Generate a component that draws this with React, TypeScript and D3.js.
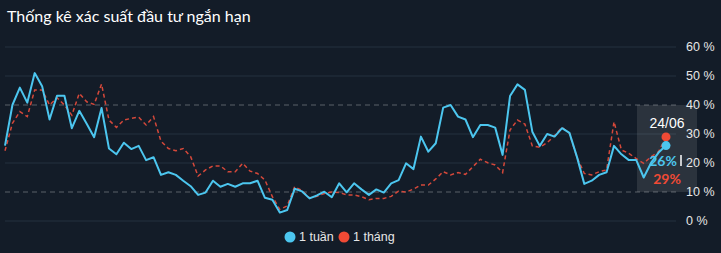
import React from "react";
import * as d3 from "d3";

const W = 721;
const H = 253;

const title = "Thống kê xác suất đầu tư ngắn hạn";
const seriesNames = ["1 tuần", "1 tháng"];
const yTicks = [0, 10, 20, 30, 40, 50, 60];
const dashedTicks = [10, 40];
const lastLabel = "24/06";

const week = [
  26, 40, 46, 40.8, 51, 46.5, 35, 43.2, 43.2, 32,
  38, 33.5, 28.9, 39, 25, 23, 27, 24.8, 25.9, 21,
  22, 15.9, 16.8, 15.9, 13.9, 12, 9, 9.8, 13.9, 11.8,
  12.8, 11.8, 13, 13, 13.9, 8, 7.3, 2.9, 3.8, 11.1,
  10.2, 7.8, 8.8, 10.1, 8.2, 13, 9.9, 13, 10.9, 9,
  10.9, 9.8, 13, 14.1, 19.9, 17.9, 29.1, 23.9, 26.8, 39.1,
  40, 36, 35, 28.9, 33.1, 33.1, 32.2, 22.8, 43.1, 47.1,
  45.2, 30.8, 25.9, 30, 29.1, 32, 30.4, 22.2, 12.8, 13.9,
  15.9, 16.8, 25.9, 23, 21, 21, 15, 20.1, 23.6, 26,
];

const month = [
  24.2, 33.7, 37.7, 36, 45.2, 45.2, 40, 42.5, 40, 36.5,
  44, 41.1, 40.2, 47.2, 34.8, 32.3, 34.8, 35.4, 35.8, 33.1,
  36, 27.5, 25, 24.2, 25, 22.2, 15.5, 17.6, 19, 19,
  17, 17, 19.9, 17.2, 16.4, 14.1, 8.4, 4, 5.2, 11.8,
  10.5, 8, 8.5, 9.5, 10, 9.8, 9, 9, 8.4, 7.3,
  7.8, 7.8, 8.5, 10.3, 10, 11, 12.4, 12.4, 14.5, 17,
  15.9, 16.7, 16.1, 18.7, 21.3, 20.1, 19.3, 16.7, 31.4, 34.8,
  33.4, 25.9, 25.4, 27, 29.5, 32.3, 30.2, 22, 16.4, 15.9,
  17, 17.6, 34.2, 24.5, 23.3, 21.5, 19.9, 22.2, 23.9, 29,
];

const BG = "#131c28";
const BLUE = "#4cc6ef";
const RED_LINE = "#d4483a";
const RED_DOT = "#f04a35";

export default function App() {
  const n = week.length;
  const x = d3.scaleLinear().domain([0, n - 1]).range([5, 666]);
  const y = d3.scaleLinear().domain([0, 60]).range([221, 47]);
  const line = d3
    .line<number>()
    .x((_, i) => x(i))
    .y((d) => y(d));

  const lastI = n - 1;
  const lx = x(lastI);

  return (
    <svg
      width={W}
      height={H}
      style={{ position: "absolute", left: 0, top: 0, display: "block" }}
    >
      <rect x={0} y={0} width={W} height={H} fill={BG} />
      <text
        x={7}
        y={22}
        fill="#ffffff"
        fontFamily="Lato, 'Noto Sans', sans-serif"
        fontSize={16}
      >
        {title}
      </text>

      {yTicks.map((t) => {
        const dashed = dashedTicks.includes(t);
        return (
          <g key={t}>
            <line
              x1={5}
              x2={676}
              y1={y(t)}
              y2={y(t)}
              stroke={dashed ? "#5a6068" : "#1f2a37"}
              strokeWidth={dashed ? 1 : 1.5}
              strokeDasharray={dashed ? "5,4" : undefined}
            />
            <text
              x={686}
              y={y(t)}
              dy="0.35em"
              fill="#e6e6e6"
              fontFamily="'Liberation Sans', Arial, sans-serif"
              fontSize={12.5}
            >
              {t} %
            </text>
          </g>
        );
      })}

      <rect
        x={637}
        y={y(40)}
        width={60}
        height={y(10) - y(40)}
        fill="#ffffff"
        fillOpacity={0.1}
      />

      <path
        d={line(month) || ""}
        fill="none"
        stroke={RED_LINE}
        strokeWidth={1.5}
        strokeDasharray="4,3"
      />
      <path
        d={line(week) || ""}
        fill="none"
        stroke={BLUE}
        strokeWidth={2}
        strokeLinejoin="round"
      />

      <text
        x={lx + 1}
        y={123}
        dy="0.35em"
        textAnchor="middle"
        fill="#ffffff"
        fontFamily="'Liberation Sans', Arial, sans-serif"
        fontSize={14}
      >
        {lastLabel}
      </text>
      <circle cx={lx} cy={y(month[lastI])} r={4.5} fill={RED_DOT} />
      <circle cx={lx} cy={y(week[lastI])} r={4.5} fill={BLUE} />
      <text
        x={663}
        y={161}
        dy="0.35em"
        textAnchor="middle"
        fill={BLUE}
        fontWeight="bold"
        fontFamily="Lato, sans-serif"
        fontSize={14}
      >
        {Math.round(week[lastI])}%
      </text>
      <text
        x={667}
        y={179}
        dy="0.35em"
        textAnchor="middle"
        fill={RED_DOT}
        fontWeight="bold"
        fontFamily="Lato, sans-serif"
        fontSize={14}
      >
        {Math.round(month[lastI])}%
      </text>
      <line x1={681} x2={681} y1={155} y2={166} stroke="#ffffff" strokeWidth={1.5} />

      <circle cx={290} cy={237} r={5.5} fill={BLUE} />
      <text
        x={299}
        y={237}
        dy="0.35em"
        fill="#e6e6e6"
        fontFamily="'Liberation Sans', Arial, sans-serif"
        fontSize={12.5}
      >
        {seriesNames[0]}
      </text>
      <circle cx={344} cy={237} r={5.5} fill={RED_DOT} />
      <text
        x={353}
        y={237}
        dy="0.35em"
        fill="#e6e6e6"
        fontFamily="'Liberation Sans', Arial, sans-serif"
        fontSize={12.5}
      >
        {seriesNames[1]}
      </text>
    </svg>
  );
}
